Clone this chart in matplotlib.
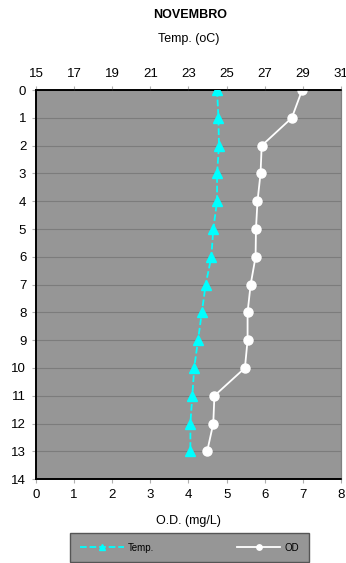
import matplotlib.pyplot as plt

# depth (m) and readings, Novembro profile
depth = list(range(14))
temp = [24.5, 24.57, 24.6, 24.5, 24.5, 24.3, 24.2, 23.9, 23.7, 23.5, 23.3, 23.2, 23.1, 23.1]
od = [6.98, 6.71, 5.92, 5.89, 5.81, 5.77, 5.76, 5.63, 5.55, 5.55, 5.48, 4.68, 4.65, 4.49]

temp_ticks = list(range(15, 32, 2))
od_ticks = list(range(0, 9))
depth_ticks = list(range(0, 15))

plt.rcParams['font.family'] = ['Liberation Sans', 'DejaVu Sans']

fig = plt.figure(figsize=(3.46, 5.63), dpi=100)
ax = fig.add_axes([0.104, 0.149, 0.8815, 0.691])
ax.set_facecolor('#969696')

# O.D. on the bottom axis
ax.plot(od, depth, color='white', lw=1.3, marker='o', ms=6.5, mfc='white', mec='white',
        label='OD', zorder=4)
ax.set_xlim(0, 8)
ax.set_ylim(14, 0)
ax.set_xticks(od_ticks)
ax.set_yticks(depth_ticks)
ax.set_xlabel('O.D. (mg/L)', fontsize=9, labelpad=10)
ax.yaxis.grid(True, color='#7c7c7c', lw=0.8)
ax.set_axisbelow(True)
ax.tick_params(axis='both', labelsize=9.5, length=3, color='#b0b0b0', pad=4)

# Temperature on the top axis
ax2 = ax.twiny()
ax2.plot(temp, depth, color='#00ffff', lw=1.3, ls='--', marker='^', ms=6.5,
         mfc='#00ffff', mec='#00ffff', label='Temp.', zorder=5)
ax2.set_xlim(15, 31)
ax2.set_xticks(temp_ticks)
ax2.tick_params(axis='x', labelsize=9.5, length=3, color='#b0b0b0', pad=4)
ax2.set_xlabel('Temp. (oC)', fontsize=9, labelpad=19)
ax2.xaxis.set_label_position('top')

for a in (ax, ax2):
    for side in ('top', 'bottom', 'left'):
        a.spines[side].set_color('black')
        a.spines[side].set_linewidth(1.2)
    a.spines['right'].set_color('#808080')

fig.text(0.55, 0.973, 'NOVEMBRO', ha='center', va='center', fontsize=9, fontweight='bold')

h1, l1 = ax2.get_legend_handles_labels()
h2, l2 = ax.get_legend_handles_labels()
leg = fig.legend(h1 + h2, l1 + l2, loc='center', bbox_to_anchor=(0.548, 0.0275),
                 ncol=2, fontsize=7, frameon=True, fancybox=False,
                 handlelength=4.5, handletextpad=0.4, columnspacing=8.5,
                 borderpad=1.0, borderaxespad=0, markerscale=0.6)
leg.get_frame().set_facecolor('#969696')
leg.get_frame().set_edgecolor('#555555')
leg.get_frame().set_alpha(1)

plt.savefig('out.png', dpi=100)
